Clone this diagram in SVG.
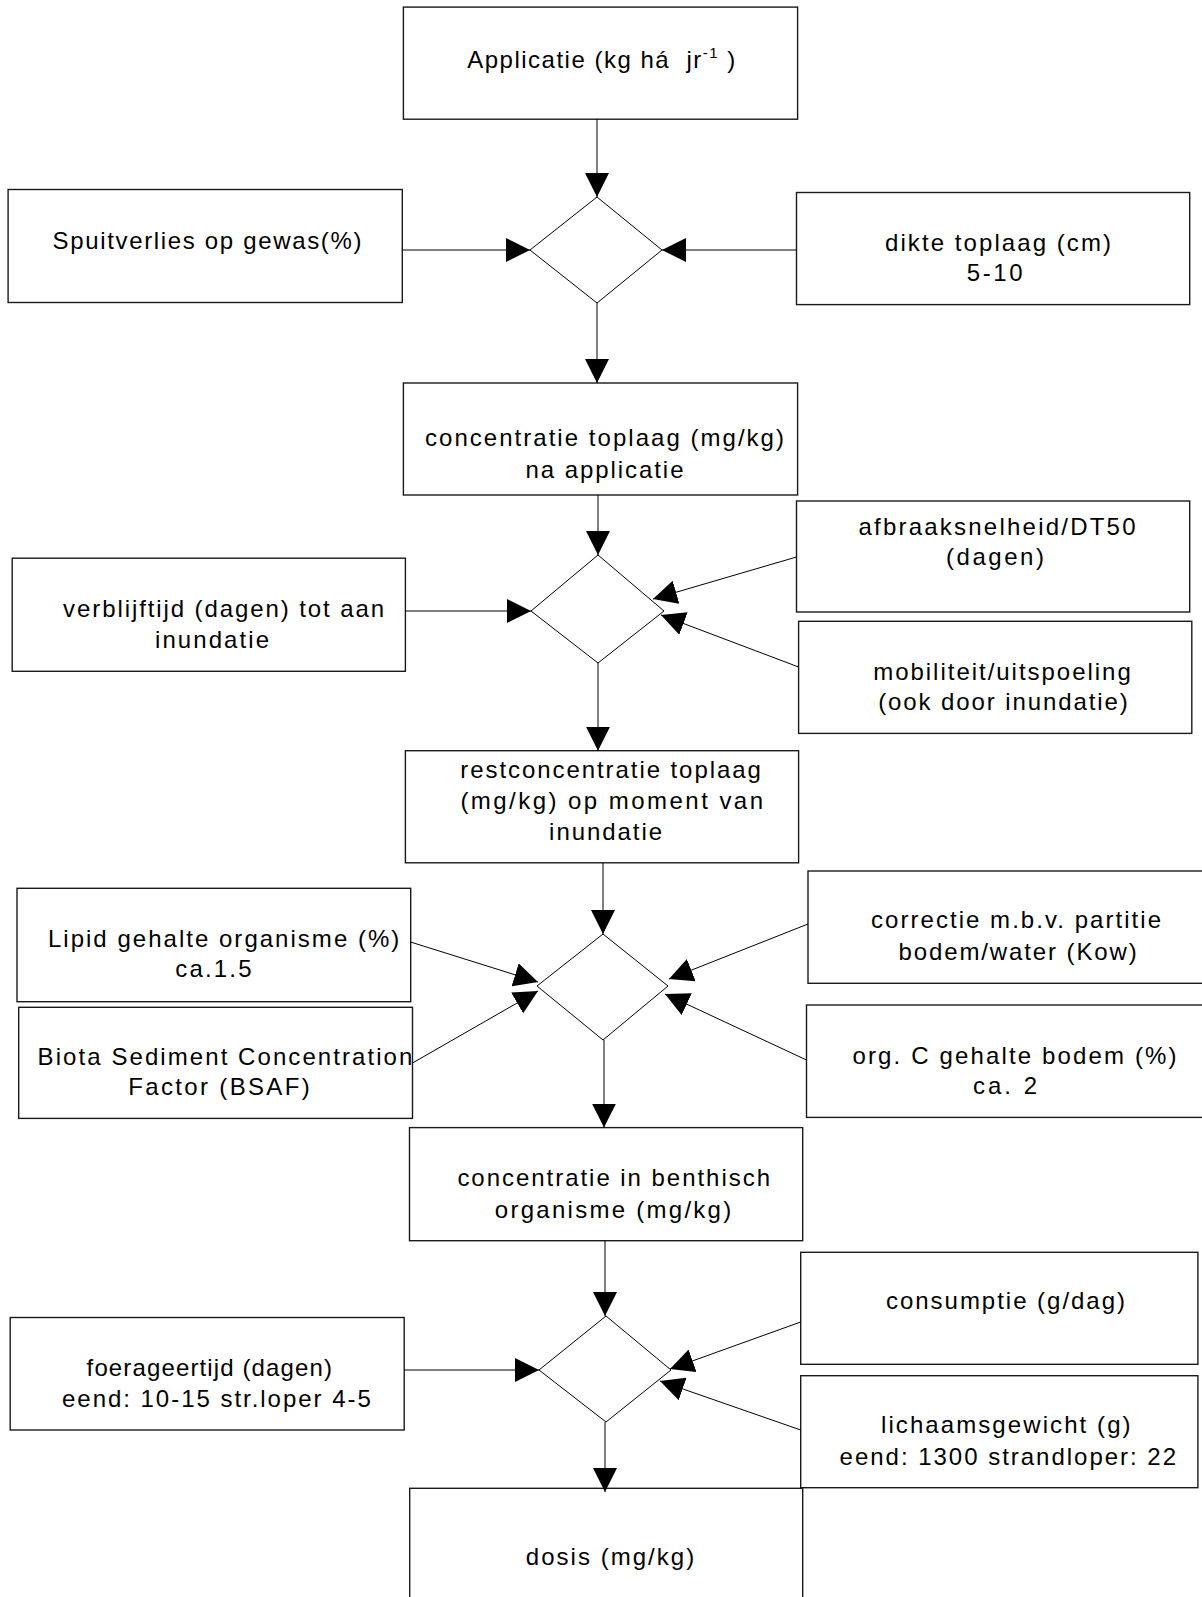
<svg xmlns="http://www.w3.org/2000/svg" width="1202" height="1597" viewBox="0 0 1202 1597">
<style>
.box{fill:#fff;stroke:#1a1a1a;stroke-width:1.4}
.dia{fill:#fff;stroke:#000;stroke-width:1}
.conn{stroke:#000;stroke-width:1;fill:none;marker-end:url(#ah)}
text{font-family:"Liberation Sans",Arial,sans-serif;font-size:24px;fill:#000;text-anchor:middle}
</style>
<defs>
<marker id="ah" markerUnits="userSpaceOnUse" markerWidth="24" markerHeight="24" refX="24" refY="12" orient="auto">
<path d="M0,0 L24,12 L0,24 z" fill="#000"/>
</marker>
</defs>
<rect width="1202" height="1597" fill="#fff"/>

<g id="n-applicatie">
<rect class="box" x="403.4" y="7.1" width="394.2" height="112.1"/>
<text x="602" y="68" letter-spacing="1.5">Applicatie (kg há&#160; jr<tspan font-size="15" dy="-10">-1</tspan><tspan dy="10"> )</tspan></text>
</g>
<g id="n-spuitverlies">
<rect class="box" x="8.1" y="189.5" width="394.2" height="113"/>
<text x="207" y="249" textLength="309" lengthAdjust="spacing">Spuitverlies op gewas(%)</text>
</g>
<g id="n-dikte">
<rect class="box" x="796.5" y="192.5" width="393.2" height="112.1"/>
<text x="998" y="250.5" textLength="226" lengthAdjust="spacing">dikte toplaag (cm)</text>
<text x="994.7" y="281" textLength="56" lengthAdjust="spacing">5-10</text>
</g>
<g id="n-conc-toplaag">
<rect class="box" x="403.4" y="383" width="394.2" height="112"/>
<text x="604.5" y="446" textLength="359" lengthAdjust="spacing">concentratie toplaag (mg/kg)</text>
<text x="604.5" y="478" textLength="158" lengthAdjust="spacing">na applicatie</text>
</g>
<g id="n-verblijftijd">
<rect class="box" x="12.2" y="558.2" width="393.2" height="113.1"/>
<text x="223.6" y="616.5" textLength="321" lengthAdjust="spacing">verblijftijd (dagen) tot aan</text>
<text x="212" y="648" textLength="114" lengthAdjust="spacing">inundatie</text>
</g>
<g id="n-afbraak">
<rect class="box" x="796.5" y="501" width="393.2" height="111"/>
<text x="997" y="535" textLength="277" lengthAdjust="spacing">afbraaksnelheid/DT50</text>
<text x="995" y="564.5" textLength="98" lengthAdjust="spacing">(dagen)</text>
</g>
<g id="n-mobiliteit">
<rect class="box" x="798.6" y="621.3" width="393.2" height="112.1"/>
<text x="1002" y="680" textLength="257.6" lengthAdjust="spacing">mobiliteit/uitspoeling</text>
<text x="1003" y="710" textLength="249.6" lengthAdjust="spacing">(ook door inundatie)</text>
</g>
<g id="n-restconc">
<rect class="box" x="405.4" y="750.7" width="393.2" height="112.1"/>
<text x="610.6" y="777.5" textLength="300.5" lengthAdjust="spacing">restconcentratie toplaag</text>
<text x="611.7" y="809" textLength="302.6" lengthAdjust="spacing">(mg/kg) op moment van</text>
<text x="605.6" y="839.5" textLength="113" lengthAdjust="spacing">inundatie</text>
</g>
<g id="n-lipid">
<rect class="box" x="17" y="888.3" width="393.7" height="113.4"/>
<text x="223.6" y="946.5" textLength="351.4" lengthAdjust="spacing">Lipid gehalte organisme (%)</text>
<text x="213.4" y="977" textLength="76.4" lengthAdjust="spacing">ca.1.5</text>
</g>
<g id="n-biota">
<rect class="box" x="18.7" y="1007.3" width="393.8" height="111.1"/>
<text x="225" y="1065" textLength="374.8" lengthAdjust="spacing">Biota Sediment Concentration</text>
<text x="219" y="1095" textLength="181.4" lengthAdjust="spacing">Factor (BSAF)</text>
</g>
<g id="n-correctie">
<rect class="box" x="808" y="871" width="400" height="112.3"/>
<text x="1016" y="928" textLength="290" lengthAdjust="spacing">correctie m.b.v. partitie</text>
<text x="1017.6" y="960" textLength="238.4" lengthAdjust="spacing">bodem/water (Kow)</text>
</g>
<g id="n-orgc">
<rect class="box" x="806.5" y="1005" width="402" height="112.4"/>
<text x="1014.5" y="1064" textLength="324" lengthAdjust="spacing">org. C gehalte bodem (%)</text>
<text x="1005" y="1094" textLength="64" lengthAdjust="spacing">ca. 2</text>
</g>
<g id="n-benthisch">
<rect class="box" x="409.5" y="1127.6" width="393.2" height="113.1"/>
<text x="613.7" y="1186" textLength="312.6" lengthAdjust="spacing">concentratie in benthisch</text>
<text x="613" y="1217.5" textLength="236.4" lengthAdjust="spacing">organisme (mg/kg)</text>
</g>
<g id="n-foerageertijd">
<rect class="box" x="10.2" y="1317.5" width="394" height="112.5"/>
<text x="209.3" y="1375.5" textLength="245.4" lengthAdjust="spacing">foerageertijd (dagen)</text>
<text x="216.4" y="1407" textLength="308.8" lengthAdjust="spacing">eend: 10-15 str.loper 4-5</text>
</g>
<g id="n-consumptie">
<rect class="box" x="800.7" y="1252.3" width="397.2" height="112"/>
<text x="1005.5" y="1309" textLength="239" lengthAdjust="spacing">consumptie (g/dag)</text>
</g>
<g id="n-lichaamsgewicht">
<rect class="box" x="800.7" y="1375.7" width="397.2" height="112"/>
<text x="1005.8" y="1432.5" textLength="249.6" lengthAdjust="spacing">lichaamsgewicht (g)</text>
<text x="1007.8" y="1465" textLength="336.5" lengthAdjust="spacing">eend: 1300 strandloper: 22</text>
</g>
<g id="n-dosis">
<rect class="box" x="409.7" y="1488.3" width="393" height="130"/>
<text x="610" y="1565" textLength="168.3" lengthAdjust="spacing">dosis (mg/kg)</text>
</g>

<g id="d1"><polygon class="dia" points="597,197 662,250 597,303 530,250"/></g>
<g id="d2"><polygon class="dia" points="598,555 664,611 598,663 531,611"/></g>
<g id="d3"><polygon class="dia" points="603,934 668,986 603,1040 537,986"/></g>
<g id="d4"><polygon class="dia" points="606,1316 671,1370 606,1422 539,1370"/></g>

<g id="connectors">
<path class="conn" d="M597,119.2 L597,197"/>
<path class="conn" d="M402.3,250 L530,250"/>
<path class="conn" d="M796.5,250 L662,250"/>
<path class="conn" d="M597,303 L597,383"/>
<path class="conn" d="M598,495 L598,555"/>
<path class="conn" d="M405.4,611 L531,611"/>
<path class="conn" d="M796.5,557 L653,599"/>
<path class="conn" d="M798.6,667 L661,615"/>
<path class="conn" d="M598,663 L598,750.7"/>
<path class="conn" d="M603,862.8 L603,934"/>
<path class="conn" d="M410.5,942 L538,982"/>
<path class="conn" d="M412.5,1063 L538,991"/>
<path class="conn" d="M808,924 L669,979"/>
<path class="conn" d="M806.5,1060 L665,994"/>
<path class="conn" d="M604,1040 L604,1127.6"/>
<path class="conn" d="M605,1240.7 L605,1316"/>
<path class="conn" d="M404.2,1370 L539,1370"/>
<path class="conn" d="M800.7,1322 L670,1369"/>
<path class="conn" d="M800.7,1430 L660,1381"/>
<path class="conn" d="M605,1422 L605,1492"/>
</g>
</svg>
